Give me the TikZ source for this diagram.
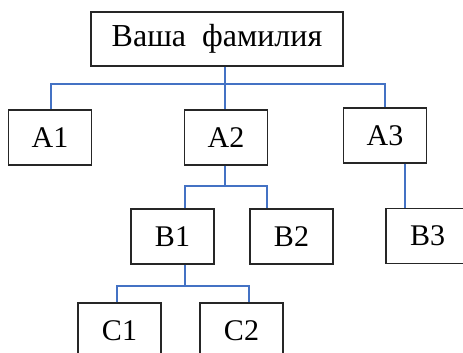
\documentclass[tikz,border=0pt]{standalone}
\usepackage{fontspec}
\setmainfont{Liberation Serif}
\usetikzlibrary{arrows,shapes}

\definecolor{linkblue}{RGB}{68,114,196}

\begin{document}
\begin{tikzpicture}[x=1pt,y=-1pt]

  \tikzstyle{box}=[rectangle,draw=black!85,line width=1.2pt,fill=white,inner sep=0pt,
    minimum height=55pt,minimum width=83pt,font=\fontsize{30}{30}\selectfont]
  \tikzstyle{root}=[box,minimum width=252pt,minimum height=54pt,
    font=\fontsize{32}{32}\selectfont]
  \tikzstyle{link}=[color=linkblue,line width=1.8pt]

  \useasboundingbox (0,0) rectangle (463,353);
  \clip (0,0) rectangle (463,353);

  %% \draw [help lines,step=20] (0,0) grid (463,353);

  \node  (fam) at (217,39)      [root]  {Ваша\ \ фамилия};
  \node  (a1)  at (50,137.5)    [box]   {A1};
  \node  (a2)  at (226,137.5)   [box]   {A2};
  \node  (a3)  at (385,135.5)   [box]   {A3};
  \node  (b1)  at (172.5,236.5) [box]   {B1};
  \node  (b2)  at (291.5,236.5) [box]   {B2};
  \node  (b3)  at (427.5,236)   [box]   {B3};
  \node  (c1)  at (119.5,330.5) [box]   {C1};
  \node  (c2)  at (241.5,330.5) [box]   {C2};

  \coordinate (busa) at (225,84);
  \coordinate (da1)  at (51,84);
  \coordinate (da3)  at (385,84);
  \coordinate (db1)  at (185,186);
  \coordinate (db2)  at (267,186);
  \coordinate (db3)  at (405,186);
  \coordinate (dc1)  at (117,286);
  \coordinate (dc2)  at (249,286);

  \draw [link] (fam.south -| busa) -- (a2.north -| busa);
  \draw [link] (a1.north -| da1) -- (da1) -- (da3) -- (a3.north -| da3);
  \draw [link] (a2.south -| busa) -- (busa |- db1);
  \draw [link] (b1.north -| db1) -- (db1) -- (db2) -- (b2.north -| db2);
  \draw [link] (a3.south -| db3) -- (b3.north -| db3);
  \draw [link] (b1.south -| db1) -- (db1 |- dc1);
  \draw [link] (c1.north -| dc1) -- (dc1) -- (dc2) -- (c2.north -| dc2);
\end{tikzpicture}
\end{document}
